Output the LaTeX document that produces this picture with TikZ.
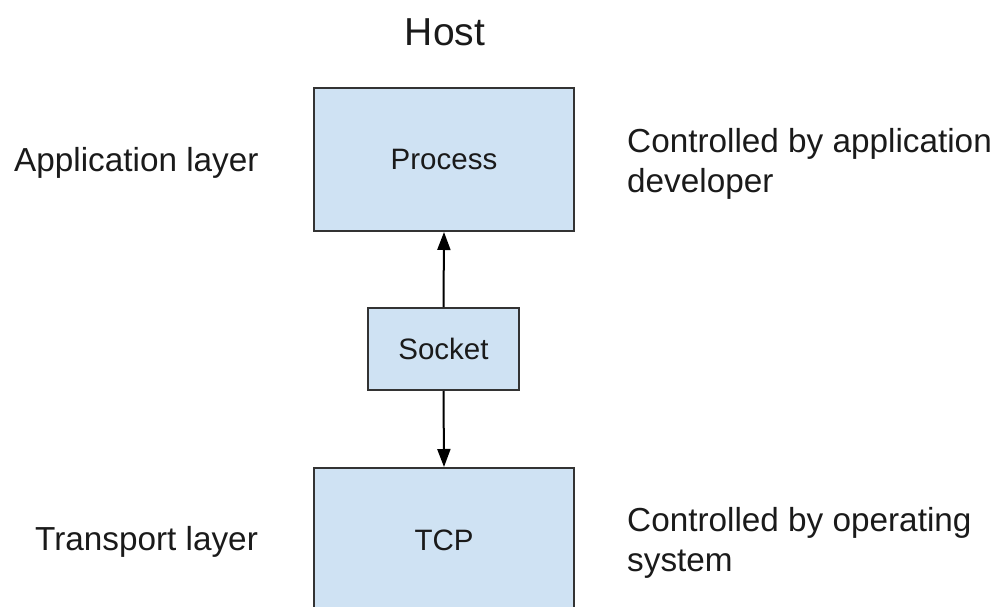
\documentclass[tikz,border=0pt]{standalone}
\usepackage{fontspec}
\setmainfont{Liberation Sans}
\usetikzlibrary{arrows.meta}
\definecolor{boxfill}{HTML}{CFE2F3}
\definecolor{boxline}{HTML}{333333}
\definecolor{txt}{HTML}{1A1A1A}
\begin{document}
\begin{tikzpicture}[x=1pt,y=-1pt,
  layerbox/.style={draw=boxline,line width=2pt,fill=boxfill,inner sep=0pt,text=txt,font=\fontsize{29.5}{36}\selectfont},
  lbl/.style={text=txt,font=\fontsize{33.3}{40}\selectfont,inner sep=0pt},
  conn/.style={line width=2pt,-{Triangle[width=13pt,length=18pt]}}]
\useasboundingbox (0,0) rectangle (1001,607);
\clip (0,0) rectangle (1001,607);
\node[lbl,font=\fontsize{39}{46}\selectfont] (host) at (445,32) {Host};
\node[layerbox,minimum width=260pt,minimum height=143pt] (proc) at (444,159.5) {Process};
\node[layerbox,minimum width=151pt,minimum height=82pt] (sock) at (443.5,349) {Socket};
\node[layerbox,minimum width=260pt,minimum height=144pt] (tcp) at (444,540) {TCP};
\draw[conn] (sock.north) -- (proc.south);
\draw[conn] (sock.south) -- (tcp.north);
\node[lbl,anchor=west] (app) at (14,163) {Application layer};
\node[lbl,anchor=west] (trans) at (35,542) {Transport layer};
\node[lbl,anchor=west,align=left] (ctrlapp) at (627,164) {Controlled by application\\developer};
\node[lbl,anchor=west,align=left] (ctrlos) at (627,543) {Controlled by operating\\system};
\end{tikzpicture}
\end{document}
